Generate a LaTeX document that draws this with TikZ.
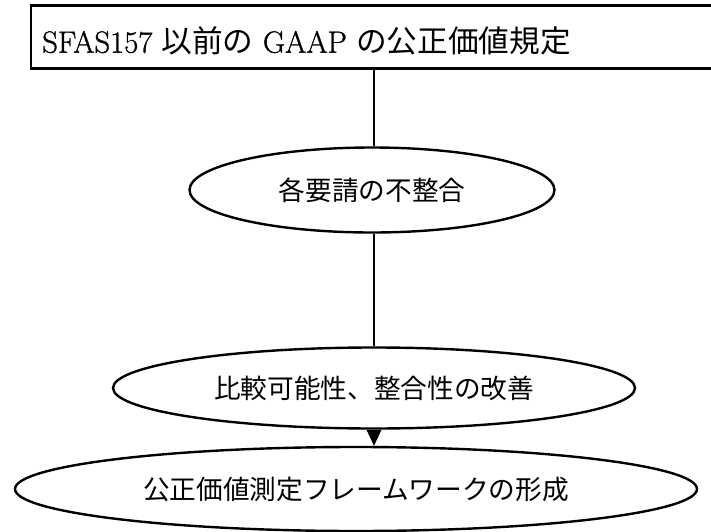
\documentclass[tikz,border=0pt]{standalone}
\usepackage{fontspec}
\newfontfamily\jp{Noto Sans CJK JP}
\newfontfamily\lat{Latin Modern Roman}[FakeBold=1]
\usetikzlibrary{shapes.geometric,arrows.meta}
\tikzset{
  boxline/.style={draw=black,line width=1.8pt},
  ell/.style={ellipse,draw=black,line width=1.8pt,inner sep=0pt,font=\fontsize{20}{24}\selectfont\jp},
  conn/.style={draw=black,line width=0.8pt},
}
\begin{document}
\begin{tikzpicture}[x=0.75pt,y=-0.75pt]
\useasboundingbox (0,0) rectangle (711,532);
\clip (0,0) rectangle (711,532);
\node[boxline,rectangle,minimum width=700*0.75pt,minimum height=63*0.75pt,inner sep=0pt] (top) at (381,37) {};
\node[anchor=west,inner sep=0pt,font=\fontsize{23}{27}\selectfont] (toptext) at (42,41) {\lat SFAS157 {\jp 以前の} GAAP {\jp の公正価値規定}};
\node[ell,minimum width=365*0.75pt,minimum height=85*0.75pt] (e1) at (372,190) {各要請の不整合};
\node[ell,minimum width=522*0.75pt,minimum height=81*0.75pt] (e2) at (374,388) {比較可能性、整合性の改善};
\node[ell,minimum width=682*0.75pt,minimum height=84*0.75pt] (e3) at (356,489) {公正価値測定フレームワークの形成};
\draw[conn] (e2.north |- top.south) -- (e2.north |- e1.north);
\draw[conn] (e2.north |- e1.south) -- (e2.north);
\draw[conn,-{Triangle[length=12pt,width=11pt]}] (e2.south) -- (e2.south |- e3.north);
\end{tikzpicture}
\end{document}
